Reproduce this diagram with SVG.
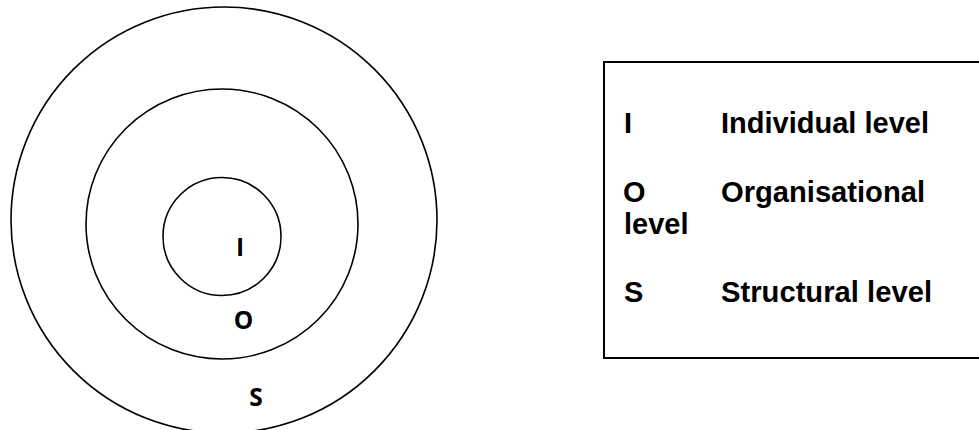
<svg xmlns="http://www.w3.org/2000/svg" width="979" height="430" viewBox="0 0 979 430">
<style>
.ring{fill:none;stroke:#000;stroke-width:1.6}
.lbl{font-family:"Open Sans","Liberation Sans",sans-serif;font-weight:bold;font-size:24.5px;fill:#000;text-anchor:middle}
.key{font-family:"Liberation Sans",Arial,sans-serif;font-weight:bold;font-size:29px;fill:#000}
</style>
<rect width="979" height="430" fill="#fff"/>
<g id="ring-S"><ellipse class="ring" cx="224" cy="220" rx="213" ry="213"/><text class="lbl" x="256" y="405.5">S</text></g>
<g id="ring-O"><ellipse class="ring" cx="222" cy="224" rx="136" ry="135"/><text class="lbl" x="243.5" y="328.5">O</text></g>
<g id="ring-I"><ellipse class="ring" cx="222" cy="236.5" rx="59" ry="59"/><text class="lbl" x="240" y="255.5">I</text></g>
<g id="legend">
<rect x="604" y="62" width="390" height="296" fill="none" stroke="#000" stroke-width="2"/>
<text class="key" x="624" y="133">I</text>
<text class="key" x="721" y="133" textLength="208" lengthAdjust="spacingAndGlyphs">Individual level</text>
<text class="key" x="623" y="202">O</text>
<text class="key" x="721" y="202" textLength="204" lengthAdjust="spacingAndGlyphs">Organisational</text>
<text class="key" x="624" y="234">level</text>
<text class="key" x="624" y="302">S</text>
<text class="key" x="721" y="302" textLength="211" lengthAdjust="spacingAndGlyphs">Structural level</text>
</g>
<g id="connectors"/>
</svg>
